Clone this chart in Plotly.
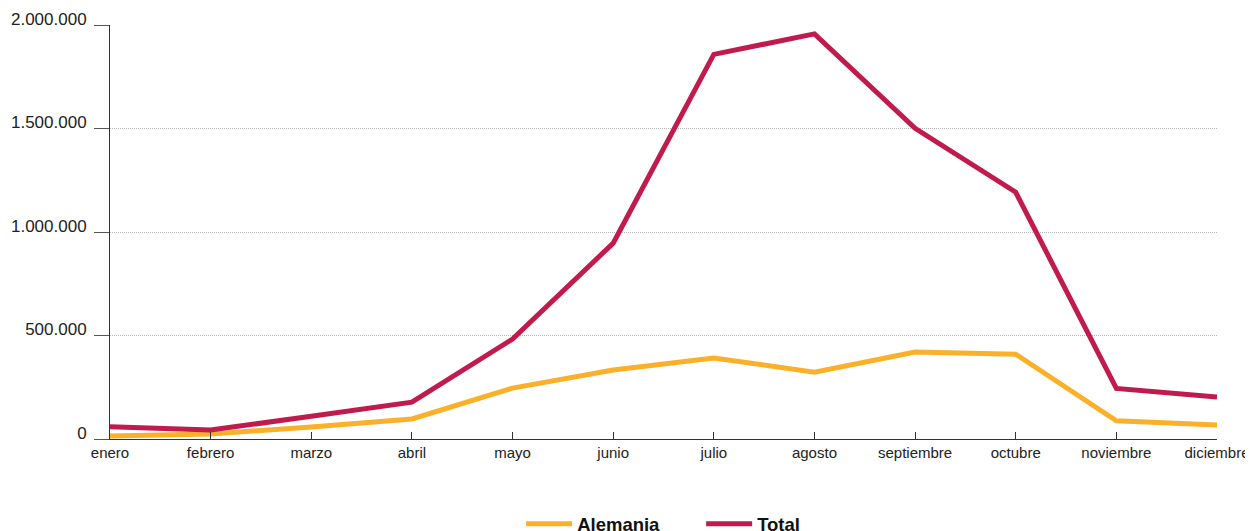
import plotly.graph_objects as go

months = ["enero", "febrero", "marzo", "abril", "mayo", "junio", "julio",
          "agosto", "septiembre", "octubre", "noviembre", "diciembre"]
alemania = [15000, 24000, 58000, 97000, 246000, 333000, 391000,
            323000, 420000, 410000, 88000, 68000]
total = [59000, 43000, 110000, 178000, 483000, 946000, 1858000,
         1957000, 1501000, 1192000, 244000, 203000]
y_ticks = [0, 500000, 1000000, 1500000, 2000000]
y_tick_labels = ["0", "500.000", "1.000.000", "1.500.000", "2.000.000"]

fig = go.Figure()
fig.add_trace(go.Scatter(x=months, y=alemania, name="Alemania", mode="lines",
                         line=dict(color="#FBB02A", width=5)))
fig.add_trace(go.Scatter(x=months, y=total, name="Total", mode="lines",
                         line=dict(color="#C11A4D", width=5)))

font_family = "Liberation Sans, Arial, Helvetica, sans-serif"
fig.update_layout(
    width=1245, height=523,
    margin=dict(l=102, r=36, t=17, b=92, autoexpand=False),
    plot_bgcolor="white", paper_bgcolor="white",
    font=dict(family=font_family, size=15, color="#222"),
    showlegend=True,
    legend=dict(orientation="h", x=0.534, xanchor="center", y=-0.16, yanchor="top",
                font=dict(size=18.5, color="#111", weight="bold"),
                entrywidth=119, itemwidth=46),
    xaxis=dict(range=[0, 11], showgrid=False, showline=True, linecolor="#333",
               linewidth=1, ticks="inside", ticklen=7, tickcolor="#333",
               tickfont=dict(size=15, color="#222"), fixedrange=True,
               zeroline=False, automargin=False),
    yaxis=dict(range=[0, 2000000], tickvals=y_ticks, ticktext=y_tick_labels,
               showgrid=True, gridcolor="#b5b5b5", griddash="1px,1px", gridwidth=1,
               showline=True, linecolor="#333", linewidth=1,
               ticks="outside", ticklen=15, tickcolor="#555",
               tickfont=dict(size=17, color="#222"), ticklabelshift=-6,
               ticklabelstandoff=4, zeroline=False, automargin=False),
)

fig.write_html("out.html")
